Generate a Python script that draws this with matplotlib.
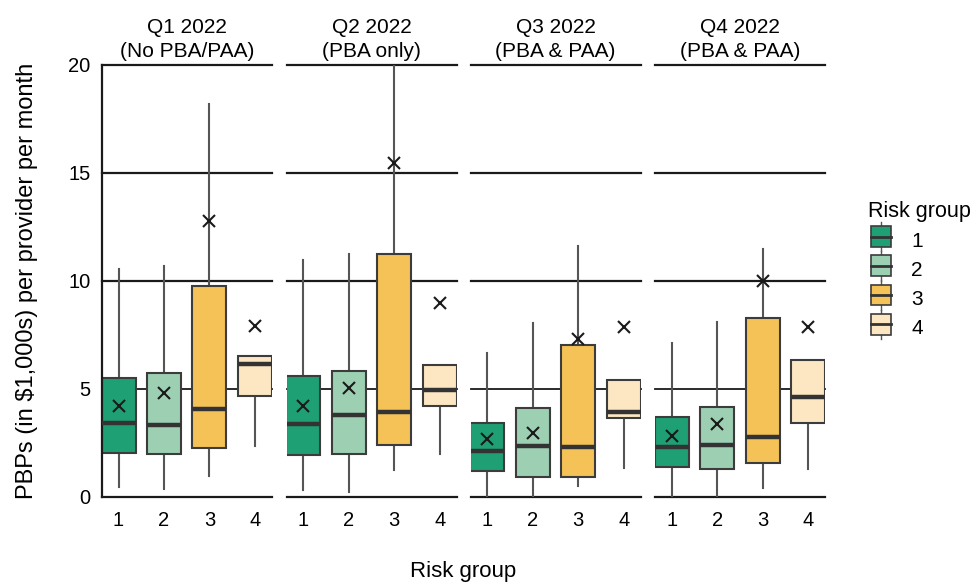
import matplotlib.pyplot as plt
from matplotlib.patches import Rectangle
from matplotlib.lines import Line2D
from matplotlib.legend_handler import HandlerBase

plt.rcParams['font.family'] = ['Liberation Sans', 'DejaVu Sans']

quarters = ["Q1 2022\n(No PBA/PAA)", "Q2 2022\n(PBA only)",
            "Q3 2022\n(PBA & PAA)", "Q4 2022\n(PBA & PAA)"]
groups = ["1", "2", "3", "4"]
colors = ["#1fa074", "#9dd0b3", "#f4c256", "#fde7c3"]

# per quarter, per risk group: whisker low, q1, median, q3, whisker high, mean
whislo = [[0.46, 0.34, 0.96, 2.35],
          [0.31, 0.23, 1.24, 1.98],
          [0.0, 0.0, 0.50, 1.31],
          [0.0, 0.0, 0.39, 1.28]]
q1 = [[2.01, 1.96, 2.24, 4.68],
      [1.93, 1.96, 2.40, 4.22],
      [1.21, 0.90, 0.93, 3.63],
      [1.39, 1.28, 1.55, 3.43]]
med = [[3.40, 3.32, 4.08, 6.15],
       [3.35, 3.79, 3.94, 4.94],
       [2.13, 2.35, 2.29, 3.94],
       [2.32, 2.40, 2.75, 4.60]]
q3 = [[5.51, 5.72, 9.76, 6.52],
      [5.61, 5.84, 11.23, 6.10],
      [3.43, 4.10, 7.03, 5.41],
      [3.71, 4.14, 8.30, 6.33]]
whishi = [[10.55, 10.71, 18.18, 6.52],
          [10.97, 11.23, 20.5, 6.10],
          [6.67, 8.03, 11.63, 5.41],
          [7.11, 8.11, 11.48, 6.33]]
means = [[4.22, 4.82, 12.78, 7.93],
         [4.20, 5.02, 15.45, 8.96],
         [2.66, 2.97, 7.29, 7.88],
         [2.83, 3.37, 10.01, 7.85]]

fig = plt.figure(figsize=(9.8, 5.86), dpi=100)
edge = "#3c3c3c"
pw = 170 / 980
lefts = [101.7, 286.5, 470.5, 655.0]

axes = []
for k in range(4):
    ax = fig.add_axes([lefts[k] / 980, 1 - 496.7 / 586, pw, (496.7 - 65) / 586])
    axes.append(ax)
    for y in [0, 5, 10, 15, 20]:
        ax.axhline(y, color="#1a1a1a", lw=1.6 if y != 5 else 1.3, zorder=0,
                   clip_on=False)
    stats = []
    for i in range(4):
        stats.append(dict(whislo=whislo[k][i], q1=q1[k][i], med=med[k][i],
                          q3=q3[k][i], whishi=whishi[k][i], fliers=[]))
    bp = ax.bxp(stats, positions=[1, 2, 3, 4], widths=0.75, patch_artist=True,
                showcaps=False, showfliers=False,
                boxprops=dict(edgecolor=edge, linewidth=1.5),
                whiskerprops=dict(color="#555555", linewidth=1.5),
                medianprops=dict(color="#333333", linewidth=3.2))
    for patch, c in zip(bp["boxes"], colors):
        patch.set_facecolor(c)
        patch.set_zorder(2)
    for w in bp["whiskers"]:
        w.set_zorder(1)
    for m in bp["medians"]:
        m.set_zorder(3)
    ax.plot([1, 2, 3, 4], means[k], linestyle="none", marker="x", ms=8,
            mew=1.5, color="#1a1a1a", zorder=4)
    ax.set_xlim(0.63, 4.37)
    ax.set_ylim(0, 20)
    ax.set_xticks([1, 2, 3, 4])
    ax.set_xticklabels(groups, fontsize=14.5)
    ax.set_title(quarters[k], fontsize=15, pad=6, linespacing=1.3)
    ax.tick_params(length=0, pad=10)
    for s in ["top", "right", "bottom"]:
        ax.spines[s].set_visible(False)
    if k == 0:
        ax.spines["left"].set_linewidth(1.6)
        ax.spines["left"].set_color("#1a1a1a")
        ax.set_yticks([0, 5, 10, 15, 20])
        ax.tick_params(axis="y", labelsize=14.5, pad=8)
        ax.set_ylabel("PBPs (in $1,000s) per provider per month", fontsize=17,
                      labelpad=22)
    else:
        ax.spines["left"].set_visible(False)
        ax.set_yticks([])

fig.text(463 / 980, 1 - 572 / 586, "Risk group", ha="center", va="center",
         fontsize=16)


class BoxHandler(HandlerBase):
    def create_artists(self, legend, orig_handle, xd, yd, width, height,
                       fontsize, trans):
        c = orig_handle.get_facecolor()
        w = width * 0.75
        x0 = xd + (width - w) / 2
        h = height * 1.2
        y0 = yd + (height - h) / 2
        r = Rectangle((x0, y0), w, h, facecolor=c, edgecolor=edge, lw=1.2,
                      transform=trans)
        m = Line2D([x0, x0 + w], [y0 + h / 2] * 2, color="#333333", lw=2,
                   transform=trans)
        xc = x0 + w / 2
        t1 = Line2D([xc, xc], [y0 + h, y0 + h + height * 0.25], color="#555555",
                    lw=1, transform=trans)
        t2 = Line2D([xc, xc], [y0, y0 - height * 0.25], color="#555555",
                    lw=1, transform=trans)
        return [t1, t2, r, m]


handles = [Rectangle((0, 0), 1, 1, facecolor=c) for c in colors]
leg = fig.legend(handles, groups, title="Risk group", loc="upper left",
                 bbox_to_anchor=(855 / 980, 1 - 188 / 586), frameon=False,
                 fontsize=15, title_fontsize=15.5,
                 handler_map={Rectangle: BoxHandler()},
                 handlelength=1.3, handleheight=0.9, labelspacing=0.45,
                 handletextpad=0.8, borderaxespad=0.2)
leg._legend_box.align = "left"

fig.savefig("out.png", dpi=100)
